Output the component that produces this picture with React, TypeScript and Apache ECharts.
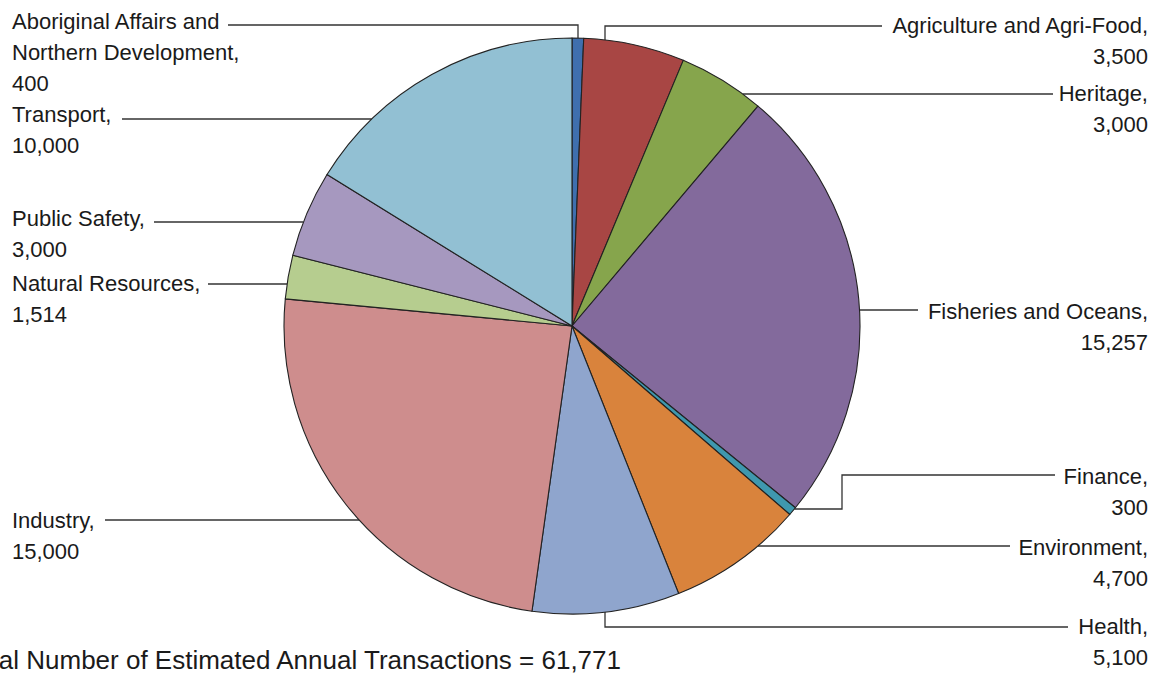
import { useEffect, useRef } from "react";
import * as echarts from "echarts";

const categories = [
  "Aboriginal Affairs and\nNorthern Development",
  "Agriculture and Agri-Food",
  "Heritage",
  "Fisheries and Oceans",
  "Finance",
  "Environment",
  "Health",
  "Industry",
  "Natural Resources",
  "Public Safety",
  "Transport",
];
const transactions = [400, 3500, 3000, 15257, 300, 4700, 5100, 15000, 1514, 3000, 10000];
const sliceColors = [
  "#3f6fae",
  "#a84644",
  "#86a54c",
  "#836a9c",
  "#3f98ae",
  "#d9833c",
  "#8fa5cd",
  "#ce8d8d",
  "#b6cd8f",
  "#a698bf",
  "#92c0d3",
];
const totalLabel = "Total Number of Estimated Annual Transactions = ";

// layout (styles) for labels and leader lines
const CX = 572;
const CY = 326;
const R = 288;
const FONT = "'Liberation Sans Narrow', 'Arial Narrow', 'Liberation Sans', sans-serif";

type Place = { side: "L" | "R"; top: number; path: number[][]; end: "h" | "v" };
const placements: Place[] = [
  { side: "L", top: 6, path: [[228, 25], [578, 25]], end: "v" },
  { side: "R", top: 10, path: [[882, 26], [605, 26]], end: "v" },
  { side: "R", top: 78, path: [[1053, 94]], end: "h" },
  { side: "R", top: 296, path: [[918, 310]], end: "h" },
  { side: "R", top: 461, path: [[1055, 475], [842, 475], [842, 509]], end: "h" },
  { side: "R", top: 532, path: [[1010, 546]], end: "h" },
  { side: "R", top: 611, path: [[1068, 627], [605, 627]], end: "v" },
  { side: "L", top: 505, path: [[105, 520]], end: "h" },
  { side: "L", top: 268, path: [[208, 284]], end: "h" },
  { side: "L", top: 203, path: [[154, 222]], end: "h" },
  { side: "L", top: 99, path: [[122, 119]], end: "h" },
];

function edgePoint(p: number[], end: "h" | "v"): number[] {
  const [x, y] = p;
  if (end === "h") {
    const dx = Math.sqrt(Math.max(0, R * R - (y - CY) * (y - CY)));
    return [x < CX ? CX - dx : CX + dx, y];
  }
  const dy = Math.sqrt(Math.max(0, R * R - (x - CX) * (x - CX)));
  return [x, y < CY ? CY - dy : CY + dy];
}

export default function App() {
  const ref = useRef<HTMLDivElement>(null);
  useEffect(() => {
    if (!ref.current) return;
    const chart = echarts.init(ref.current, undefined, { renderer: "svg" });
    const total = transactions.reduce((a, b) => a + b, 0);
    chart.setOption({
      animation: false,
      backgroundColor: "#ffffff",
      series: [
        {
          type: "pie",
          center: [CX, CY],
          radius: R,
          startAngle: 90,
          clockwise: true,
          avoidLabelOverlap: false,
          emphasis: { disabled: true },
          itemStyle: { borderColor: "#222222", borderWidth: 1.1 },
          label: {
            show: true,
            position: "outside",
            fontFamily: FONT,
            fontSize: 22,
            lineHeight: 31,
            color: "#1a1a1a",
            formatter: (p: any) => `${p.name},\n${Number(p.value).toLocaleString("en-US")}`,
          },
          labelLine: {
            show: true,
            length: 10,
            length2: 10,
            smooth: false,
            lineStyle: { color: "#333333", width: 1.3 },
          },
          labelLayout: (params: any) => {
            const pl = placements[params.dataIndex];
            const last = pl.path[pl.path.length - 1];
            const pts = [...pl.path.map((q) => [q[0], q[1]]), edgePoint(last, pl.end)];
            return {
              x: pl.side === "L" ? 12 : 1148,
              y: pl.top,
              align: pl.side === "L" ? "left" : "right",
              verticalAlign: "top",
              labelLinePoints: pts,
            };
          },
          data: categories.map((name, i) => ({
            name,
            value: transactions[i],
            itemStyle: { color: sliceColors[i] },
          })),
        },
      ],
      graphic: [
        {
          type: "text",
          x: 621,
          y: 660,
          style: {
            text: totalLabel + total.toLocaleString("en-US"),
            fontFamily: FONT,
            fontSize: 26,
            fill: "#1a1a1a",
            align: "right",
            verticalAlign: "middle",
          },
        },
      ],
    });
    return () => chart.dispose();
  }, []);
  return (
    <div
      ref={ref}
      style={{ position: "absolute", left: 0, top: 0, width: 1156, height: 675 }}
    />
  );
}
